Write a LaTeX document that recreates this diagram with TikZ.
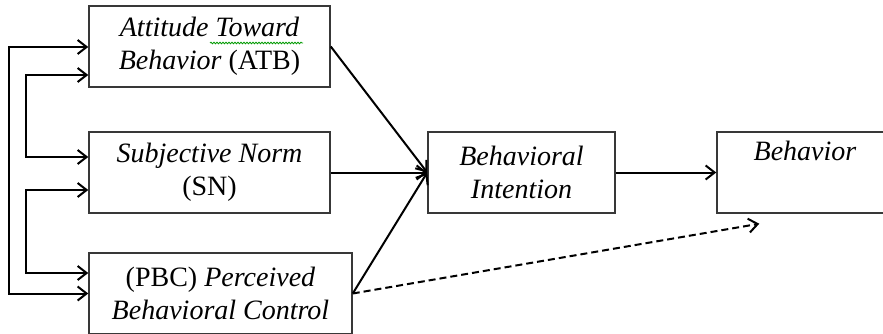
\documentclass[tikz,border=0pt]{standalone}
\usepackage{fontspec}
\setmainfont{Liberation Serif}
\usetikzlibrary{positioning, arrows.meta, calc, decorations.pathmorphing}

\begin{document}
\begin{tikzpicture}[
    x=1pt, y=-1pt,
    font=\fontsize{28}{33}\selectfont,
    box/.style={rectangle, draw=black!78, line width=1.5pt, inner sep=0pt, align=center, minimum height=81pt},
    arrow/.style={-{Straight Barb[length=9pt, width=14pt]}, line width=2pt},
    feed/.style={{Straight Barb[length=9pt, width=14pt]}-{Straight Barb[length=9pt, width=14pt]}, line width=2pt},
    squiggle/.style={green!60!black, line width=0.8pt, decorate, decoration={snake, amplitude=0.8pt, segment length=3pt}}
]
\useasboundingbox (0,0) rectangle (883,334);

% Determinants
\node[box, minimum width=241pt] (atb) at (209.5,46.5) {\textit{Attitude Toward}\\\textit{Behavior} (ATB)};
\node[box, minimum width=241pt] (sn) at (209.5,172.5) {\textit{Subjective Norm}\\(SN)};
\node[box, minimum width=263pt] (pbc) at (220.5,293.5) {(PBC) \textit{Perceived}\\\textit{Behavioral Control}};

% Intention and behavior
\node[box, minimum width=187pt] (bi) at (521.5,172.5) {\textit{Behavioral}\\\textit{Intention}};
\node[box, minimum width=176pt] (beh) at (805,172.5) {\textit{Behavior}\\\strut};

% spell check mark
\draw[squiggle] (210,43) -- (303,43);

% Paths to intention
\draw[arrow] (atb.east) -- (bi.west);
\draw[arrow] (sn.east) -- (bi.west);
\draw[arrow] (pbc.east) -- (bi.west);
\draw[arrow] (bi.east) -- (beh.west);

% Direct path from control
\coordinate (dashend) at ($(beh.south west)+(43,10)$);
\draw[arrow, dash pattern=on 7pt off 4pt] (pbc.east) -- (dashend);

% Correlations between determinants
\draw[feed] ($(atb.west)+(0,0.5)$) -- ++(-79,0) |- (pbc.west);
\draw[feed] ($(atb.west)+(0,28.5)$) -- ++(-62,0) |- ($(sn.west)+(0,-15.5)$);
\draw[feed] ($(sn.west)+(0,17.5)$) -- ++(-62,0) |- ($(pbc.west)+(0,-20.5)$);

\end{tikzpicture}
\end{document}
